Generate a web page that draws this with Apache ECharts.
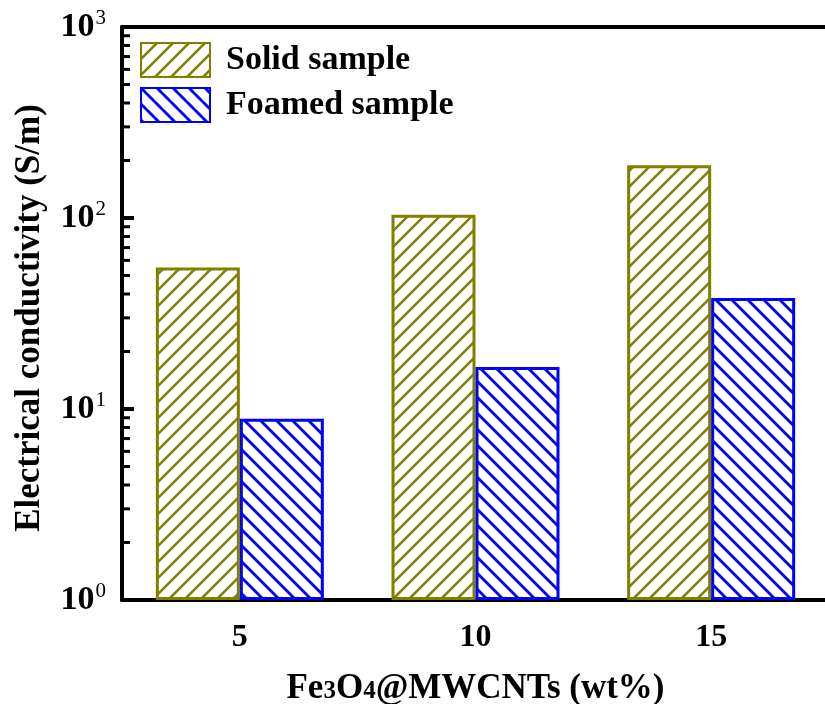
<!DOCTYPE html>
<html>
<head>
<meta charset="utf-8">
<script src="https://cdn.jsdelivr.net/npm/echarts@6/dist/echarts.min.js"></script>
<style>html,body{margin:0;padding:0;background:#fff;}#c{width:825px;height:704px;}</style>
</head>
<body>
<div id="c"></div>
<script>
const categories = ['5', '10', '15'];
const solidValues = [55, 104, 189];
const foamedValues = [8.9, 16.6, 38.1];
const yTickValues = [1, 10, 100, 1000];
const seriesNames = ['Solid sample', 'Foamed sample'];

const FONT = "'Liberation Serif', 'Times New Roman', serif";

function hatch(color, dir, lw) {
  const s = 16;
  const c = document.createElement('canvas');
  c.width = s; c.height = s;
  const g = c.getContext('2d');
  g.fillStyle = '#fff';
  g.fillRect(0, 0, s, s);
  g.strokeStyle = color;
  g.lineWidth = lw;
  for (let k = -1; k <= 1; k++) {
    g.beginPath();
    if (dir === '/') {
      g.moveTo(k * s - 2, s + 2);
      g.lineTo(k * s + s + 2, -2);
    } else {
      g.moveTo(k * s - 2, -2);
      g.lineTo(k * s + s + 2, s + 2);
    }
    g.stroke();
  }
  return c;
}

// minor tick values (2..9 per decade)
const minorTicks = [];
for (let d = 1; d < 1000; d *= 10) {
  for (let m = 2; m <= 9; m++) minorTicks.push([0, m * d]);
}
const majorTicks = yTickValues.map(v => [0, v]);

const chart = echarts.init(document.getElementById('c'));
const supMap = {1: '0', 10: '1', 100: '2', 1000: '3'};
chart.setOption({
  animation: false,
  backgroundColor: '#fff',
  grid: {left: 122, top: 27, width: 707, height: 573, outerBoundsMode: 'none', containLabel: false},
  legend: {
    orient: 'vertical', left: 135, top: 37,
    itemWidth: 69, itemHeight: 34, itemGap: 9,
    icon: 'rect',
    data: seriesNames,
    textStyle: {fontFamily: FONT, fontWeight: 'bold', fontSize: 34, color: '#000', padding: [0, 0, 0, 11]}
  },
  xAxis: [{
    type: 'category', data: categories,
    axisLine: {lineStyle: {color: '#000', width: 4}},
    axisTick: {alignWithLabel: true, length: 11, lineStyle: {color: '#000', width: 3}},
    axisLabel: {margin: 22, fontFamily: FONT, fontWeight: 'bold', fontSize: 32, color: '#000'},
    name: 'Fe{d|3}O{d|4}@MWCNTs (wt%)',
    nameLocation: 'middle', nameGap: 71,
    nameTextStyle: {fontFamily: FONT, fontWeight: 'bold', fontSize: 35, color: '#000',
      rich: {d: {fontFamily: FONT, fontWeight: 'bold', fontSize: 25, color: '#000', padding: [7, 0, 0, 0]}}}
  }, {
    type: 'category', data: categories, position: 'top',
    axisLine: {lineStyle: {color: '#000', width: 4}},
    axisTick: {show: false}, axisLabel: {show: false}
  }],
  yAxis: {
    type: 'log', logBase: 10, min: 1, max: 1000,
    axisLine: {show: true, lineStyle: {color: '#000', width: 4}},
    axisTick: {show: false},
    splitLine: {show: false},
    axisLabel: {
      margin: 16, color: '#000',
      formatter: function (v) { return '{b|10}{s|' + (supMap[v] !== undefined ? supMap[v] : '') + '}'; },
      rich: {
        b: {fontFamily: FONT, fontWeight: 'bold', fontSize: 34, color: '#000'},
        s: {fontFamily: FONT, fontSize: 21, color: '#000', padding: [0, 0, 18, 1]}
      }
    },
    name: 'Electrical conductivity (S/m)',
    nameLocation: 'middle', nameGap: 75,
    nameTextStyle: {fontFamily: FONT, fontWeight: 'bold', fontSize: 35, color: '#000', padding: [0, 9, 0, 0]}
  },
  series: [
    {
      name: seriesNames[0], type: 'bar', data: solidValues, barWidth: 84, barGap: '0%',
      itemStyle: {color: {image: hatch('#808000', '/', 2.6), repeat: 'repeat'}, borderColor: '#808000', borderWidth: 3}
    },
    {
      name: seriesNames[1], type: 'bar', data: foamedValues, barWidth: 84, barGap: '0%',
      itemStyle: {color: {image: hatch('#0000ff', '\\', 2.8), repeat: 'repeat'}, borderColor: '#0000ff', borderWidth: 3}
    },
    {
      type: 'custom', silent: true, z: 10, data: minorTicks,
      renderItem: function (params, api) {
        const y = api.coord([0, api.value(1)])[1];
        const x = params.coordSys.x;
        return {type: 'line', shape: {x1: x, y1: y, x2: x + 8, y2: y}, style: {stroke: '#000', lineWidth: 3}};
      }
    },
    {
      type: 'custom', silent: true, z: 10, data: majorTicks,
      renderItem: function (params, api) {
        const y = api.coord([0, api.value(1)])[1];
        const x = params.coordSys.x;
        return {type: 'line', shape: {x1: x, y1: y, x2: x + 12, y2: y}, style: {stroke: '#000', lineWidth: 4}};
      }
    }
  ]
});
</script>
</body>
</html>
